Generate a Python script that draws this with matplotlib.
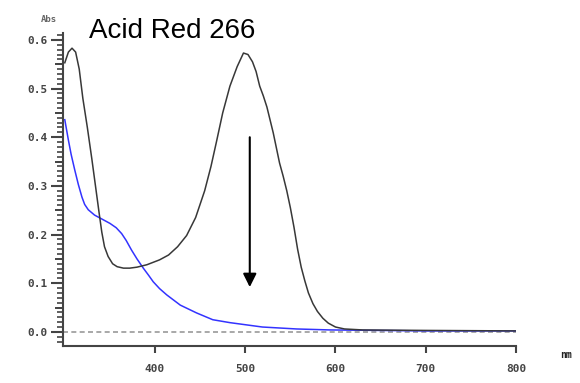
import matplotlib.pyplot as plt
from matplotlib.ticker import MultipleLocator

# Spectrum before irradiation (black)
wl_black = [300, 304, 308, 312, 316, 320, 325, 330, 334, 338, 341, 344, 348, 353, 358,
            365, 372, 380, 391, 405, 415, 425, 435, 445, 455, 462, 468, 475, 483, 491,
            498, 503, 508, 512, 516, 520, 524, 531, 538, 542, 546, 550, 554, 558, 562,
            566, 570, 575, 580, 586, 592, 600, 610, 630, 700, 800]
abs_black = [0.553, 0.575, 0.583, 0.575, 0.540, 0.480, 0.420, 0.355, 0.300, 0.245, 0.205,
             0.175, 0.155, 0.140, 0.134, 0.131, 0.131, 0.133, 0.138, 0.148, 0.158, 0.175,
             0.198, 0.235, 0.290, 0.340, 0.390, 0.450, 0.505, 0.545, 0.573, 0.570, 0.555,
             0.535, 0.505, 0.485, 0.462, 0.409, 0.347, 0.320, 0.290, 0.255, 0.215, 0.170,
             0.133, 0.105, 0.080, 0.058, 0.042, 0.028, 0.018, 0.010, 0.006, 0.004, 0.003,
             0.002]

# Spectrum after irradiation (blue)
wl_blue = [300, 302, 304, 307, 311, 315, 319, 322, 326, 333, 343, 350, 357, 363, 368,
           374, 380, 387, 393, 398, 405, 413, 428, 446, 464, 483, 519, 557, 594, 650,
           700, 800]
abs_blue = [0.436, 0.415, 0.394, 0.365, 0.333, 0.303, 0.277, 0.262, 0.251, 0.240, 0.230,
            0.223, 0.214, 0.202, 0.188, 0.168, 0.150, 0.131, 0.116, 0.103, 0.089, 0.076,
            0.055, 0.039, 0.025, 0.019, 0.010, 0.006, 0.004, 0.003, 0.002, 0.002]

x_ticks = [400, 500, 600, 700, 800]
y_ticks = [0.0, 0.1, 0.2, 0.3, 0.4, 0.5, 0.6]
y_mid_ticks = [0.05, 0.15, 0.25, 0.35, 0.45, 0.55]

fig = plt.figure(figsize=(5.8, 3.83), dpi=100)
ax = fig.add_axes([0.1086, 0.0966, 0.781, 0.817])

ax.axhline(0, color="#999999", linewidth=1.2, linestyle=(0, (3, 2)), zorder=1)
ax.plot(wl_black, abs_black, color="#383838", linewidth=1.1, zorder=3)
ax.plot(wl_blue, abs_blue, color="#3333ff", linewidth=1.1, zorder=2)

ax.annotate("", xy=(505, 0.092), xytext=(505, 0.40),
            arrowprops=dict(arrowstyle="-|>", color="black", lw=1.5,
                            mutation_scale=20, shrinkA=0, shrinkB=0))

ax.set_xlim(298, 800)
ax.set_ylim(-0.029, 0.614)

for side in ("top", "right"):
  ax.spines[side].set_visible(False)
for side in ("left", "bottom"):
  ax.spines[side].set_color("#444444")
  ax.spines[side].set_linewidth(1.5)

ax.set_xticks(x_ticks)
ax.set_xticklabels([str(t) for t in x_ticks])
ax.set_yticks(y_ticks)
ax.set_yticklabels([f"{t:.1f}" for t in y_ticks])
ax.yaxis.set_minor_locator(MultipleLocator(0.01))

for lab in ax.get_xticklabels() + ax.get_yticklabels():
  lab.set_fontfamily("DejaVu Sans Mono")
  lab.set_fontweight("bold")
  lab.set_fontsize(8)
  lab.set_color("#444444")

ax.tick_params(axis="y", which="major", length=9, width=1.5, color="#444444", pad=2)
ax.tick_params(axis="y", which="minor", length=4, width=1.2, color="#444444")
ax.tick_params(axis="x", which="major", length=5, width=1.5, color="#444444", pad=8)

# medium ticks at the half-steps
sec = ax.secondary_yaxis("left")
sec.set_yticks(y_mid_ticks)
sec.set_yticklabels([])
sec.tick_params(length=6, width=1.4, color="#444444")
sec.spines["left"].set_visible(False)

ax.text(-0.03, 1.03, "Abs", transform=ax.transAxes, ha="center", va="bottom",
        fontsize=6.5, fontweight="bold", color="#666666", family="DejaVu Sans Mono")
fig.text(0.976, 0.072, "nm", ha="center", va="center", fontsize=7,
         fontweight="bold", color="#222222", family="DejaVu Sans Mono")
fig.text(0.297, 0.92, "Acid Red 266", ha="center", va="center", fontsize=20,
         family="Liberation Sans", color="black")

fig.savefig("out.png", dpi=100)
